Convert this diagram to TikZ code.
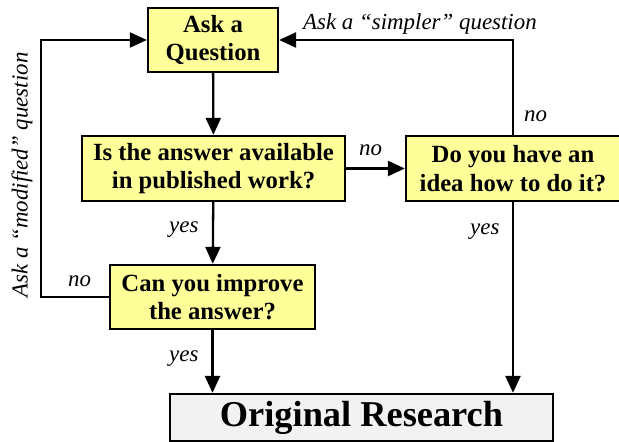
\documentclass[tikz,border=0pt]{standalone}
\usepackage{fontspec}
\setmainfont{Liberation Serif}
\usetikzlibrary{arrows.meta}
\definecolor{qyellow}{HTML}{FFFF99}
\definecolor{rgray}{HTML}{F2F2F2}
\begin{document}
\begin{tikzpicture}[x=1bp,y=-1bp,line width=2.3bp,>={Triangle[length=17bp,width=15bp]},
    qbox/.style={draw,fill=qyellow,align=center,inner sep=0pt,
        font=\fontsize{24.8}{28.5}\selectfont\bfseries},
    lbl/.style={inner sep=0pt,font=\fontsize{23}{26}\selectfont\itshape}]
\useasboundingbox (0,0) rectangle (619,442);
% questions
\node[qbox,minimum width=130bp,minimum height=64bp] (ask) at (213,40) {Ask a\\Question};
\node[qbox,minimum width=263bp,minimum height=65bp] (avail) at (213.5,168.5) {Is the answer available\\in published work?};
\node[qbox,minimum width=214bp,minimum height=65bp] (idea) at (513,168.5) {Do you have an\\idea how to do it?};
\node[qbox,minimum width=205bp,minimum height=64bp] (improve) at (212.5,297) {Can you improve\\the answer?};
\node[draw,fill=rgray,inner sep=0pt,minimum width=383bp,minimum height=47bp,
    font=\fontsize{36.5}{40}\selectfont\bfseries] (orig) at (361.5,417.5) {Original Research};
\coordinate (loopL) at (41,40);
% arrows
\draw[->] (ask) -- (avail);
\draw[->] (avail) -- (idea);
\draw[->] (avail) -- (improve);
\draw[->] (improve.south) -- (improve.south |- orig.north);
\draw[->] (idea.south) -- (idea.south |- orig.north);
\draw[->] (improve.west) -| (loopL) -- (ask.west);
\draw[->] (idea.north) |- (ask.east);
% labels
\node[lbl,anchor=base west] (simpler) at (302,30) {Ask a “simpler” question};
\node[lbl,anchor=base west] (noR) at (523,122) {no};
\node[lbl,anchor=base west] (noM) at (358,156) {no};
\node[lbl,anchor=base west] (yesM) at (168,233) {yes};
\node[lbl,anchor=base west] (yesR) at (469,235) {yes};
\node[lbl,anchor=base west] (noL) at (67,287) {no};
\node[lbl,anchor=base west] (yesL) at (168,361) {yes};
\node[lbl,rotate=90] (modified) at (22,175) {Ask a “modified” question};
\end{tikzpicture}
\end{document}
